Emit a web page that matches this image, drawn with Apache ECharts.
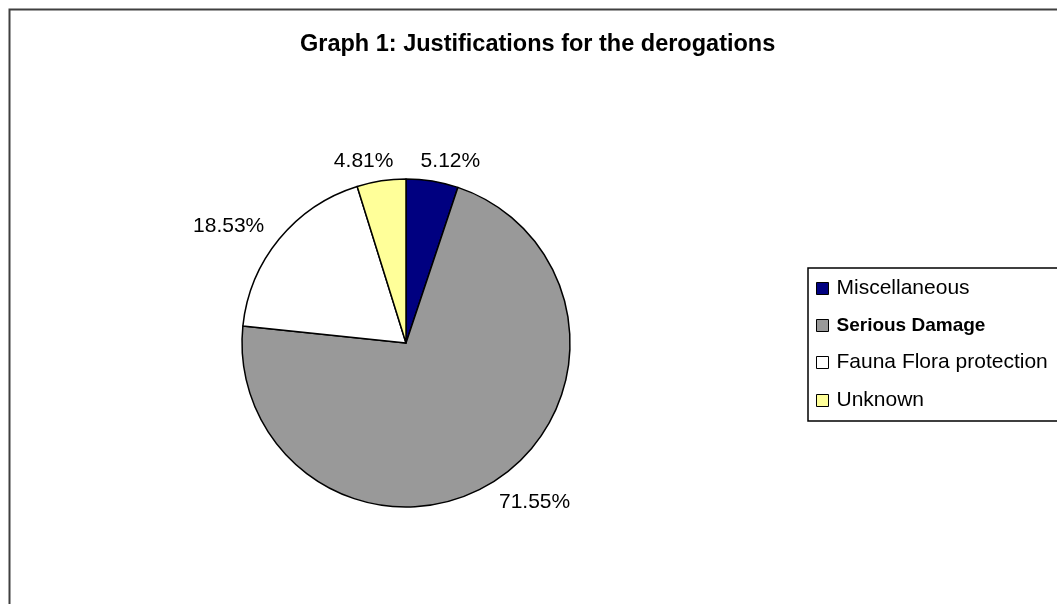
<!DOCTYPE html>
<html>
<head>
<meta charset="utf-8">
<script src="https://cdn.jsdelivr.net/npm/echarts@6/dist/echarts.min.js"></script>
<style>
html,body{margin:0;padding:0;background:#fff;}
#main{width:1057px;height:604px;}
</style>
</head>
<body>
<div id="main"></div>
<script>
const categories = ['Miscellaneous', 'Serious Damage', 'Fauna Flora protection', 'Unknown'];
const values = [5.12, 71.55, 18.53, 4.81];
const colors = ['#000080', '#999999', '#FFFFFF', '#FFFF99'];

const FONT = '"Liberation Sans", Arial, sans-serif';
const CX = 406, CY = 343;
const chart = echarts.init(document.getElementById('main'));

const pieData = categories.map((c, i) => ({
  name: c,
  value: values[i],
  itemStyle: { color: colors[i] }
}));

const legendData = categories.map((c) => {
  if (c === 'Serious Damage') {
    return { name: c, textStyle: { fontWeight: 'bold', fontSize: 19 } };
  }
  return { name: c };
});

chart.setOption({
  backgroundColor: '#ffffff',
  animation: false,
  title: {
    text: 'Graph 1: Justifications for the derogations',
    left: 300,
    top: 33,
    padding: 0,
    textStyle: { fontFamily: FONT, fontSize: 23.5, fontWeight: 'bold', color: '#000' }
  },
  legend: {
    orient: 'vertical',
    left: 808,
    top: 268,
    data: legendData,
    icon: 'rect',
    itemWidth: 12,
    itemHeight: 12,
    itemGap: 17,
    padding: [10, 10, 10, 8],
    borderColor: '#000',
    borderWidth: 1.5,
    selectedMode: false,
    itemStyle: { borderColor: '#000', borderWidth: 1 },
    textStyle: { fontFamily: FONT, fontSize: 21, color: '#000', padding: [0, 0, 0, 3] }
  },
  graphic: [{
    type: 'rect',
    left: 7,
    top: 7,
    shape: { width: 1200, height: 800 },
    style: { fill: 'none', stroke: '#404040', lineWidth: 2 },
    silent: true,
    z: 100
  }],
  series: [{
    type: 'pie',
    center: [CX, CY],
    radius: [0, 164],
    startAngle: 90,
    clockwise: true,
    data: pieData,
    itemStyle: { borderColor: '#000', borderWidth: 1.5 },
    label: {
      show: true,
      position: 'outside',
      formatter: (p) => p.value.toFixed(2) + '%',
      fontFamily: FONT,
      fontSize: 21,
      color: '#000'
    },
    labelLine: { show: false, length: 20, length2: 0 },
    labelLayout: function (p) {
      const r = p.labelRect;
      const mx = r.x + r.width / 2 - CX;
      const my = r.y + r.height / 2 - CY;
      const d = Math.sqrt(mx * mx + my * my) || 1;
      const c = mx / d;
      const s = my / d;
      const shift = -Math.sign(c) * r.width * (1 - Math.abs(c)) * 0.5;
      const dy = s > 0.5 ? 5 : 0;
      return { dx: shift, dy: dy };
    },
    emphasis: { disabled: true }
  }]
});
</script>
</body>
</html>
